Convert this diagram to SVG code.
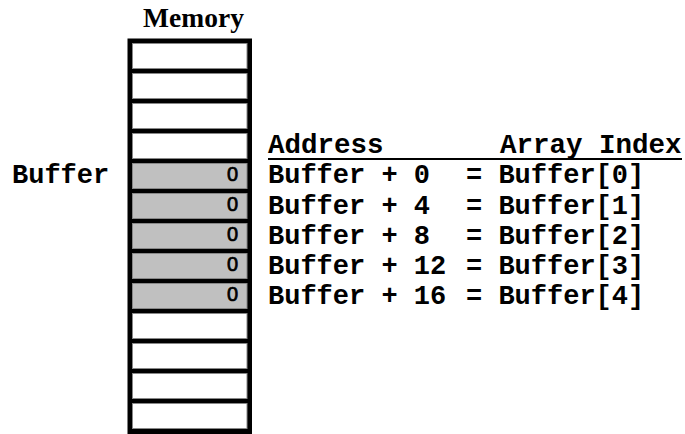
<svg xmlns="http://www.w3.org/2000/svg" width="685" height="434" viewBox="0 0 685 434">
<style>
.mono{font-family:"Liberation Mono","Courier New",monospace;font-weight:bold;font-size:27px;fill:#000}
.hd{font-size:27.5px}
.cell{stroke:#888;stroke-width:1}
.w{fill:#fff}
.g{fill:#c0c0c0}
.v{font-family:"Liberation Sans",Arial,sans-serif;font-size:20px;fill:#000;stroke:#000;stroke-width:0.7;text-anchor:end}
</style>
<rect width="685" height="434" fill="#fff"/>
<text x="193.5" y="27" font-family="Liberation Serif,'Times New Roman',serif" font-weight="bold" font-size="27.5" text-anchor="middle">Memory</text>
<g id="memory">
<rect x="127.5" y="38.5" width="124.5" height="396" fill="#000"/>
<rect class="cell w" x="132.5" y="43.5" width="114.5" height="25"/>
<rect class="cell w" x="132.5" y="73.5" width="114.5" height="25"/>
<rect class="cell w" x="132.5" y="103.5" width="114.5" height="25"/>
<rect class="cell w" x="132.5" y="133.5" width="114.5" height="25"/>
<rect class="cell g" x="132.5" y="163.5" width="114.5" height="25"/>
<rect class="cell g" x="132.5" y="193.5" width="114.5" height="25"/>
<rect class="cell g" x="132.5" y="223.5" width="114.5" height="25"/>
<rect class="cell g" x="132.5" y="253.5" width="114.5" height="25"/>
<rect class="cell g" x="132.5" y="283.5" width="114.5" height="25"/>
<rect class="cell w" x="132.5" y="313.5" width="114.5" height="25"/>
<rect class="cell w" x="132.5" y="343.5" width="114.5" height="25"/>
<rect class="cell w" x="132.5" y="373.5" width="114.5" height="25"/>
<rect class="cell w" x="132.5" y="403.5" width="114.5" height="25"/>
<text class="v" x="238" y="180.5">0</text>
<text class="v" x="238" y="210.5">0</text>
<text class="v" x="238" y="240.5">0</text>
<text class="v" x="238" y="270.5">0</text>
<text class="v" x="238" y="300.5">0</text>
</g>
<g id="label">
<text class="mono" x="12" y="183">Buffer</text>
</g>
<g id="table">
<text class="mono hd" x="268" y="153">Address</text>
<text class="mono hd" x="500" y="153">Array Index</text>
<line x1="268" y1="159" x2="682" y2="159" stroke="#000" stroke-width="2"/>
<text class="mono" x="268" y="183">Buffer + 0</text>
<text class="mono" x="466" y="183">= Buffer[0]</text>
<text class="mono" x="268" y="213.5">Buffer + 4</text>
<text class="mono" x="466" y="213.5">= Buffer[1]</text>
<text class="mono" x="268" y="243.5">Buffer + 8</text>
<text class="mono" x="466" y="243.5">= Buffer[2]</text>
<text class="mono" x="268" y="273.5">Buffer + 12</text>
<text class="mono" x="466" y="273.5">= Buffer[3]</text>
<text class="mono" x="268" y="304">Buffer + 16</text>
<text class="mono" x="466" y="304">= Buffer[4]</text>
</g>
</svg>
